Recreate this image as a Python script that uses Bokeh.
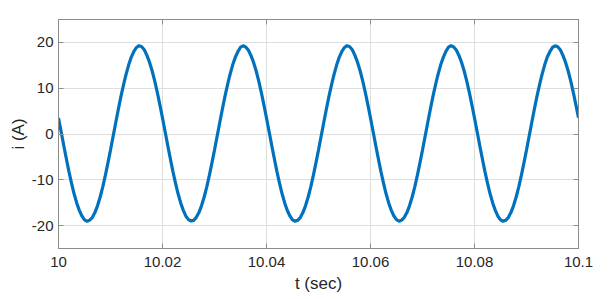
import numpy as np
from bokeh.plotting import figure
from bokeh.models import Range1d, FixedTicker, LinearAxis, ColumnDataSource
from bokeh.embed import file_html
from bokeh.resources import INLINE

# Current samples, every 0.5 ms from t = 10 s
cycle1 = [3.50, 0.53, -2.45, -5.36, -8.15, -10.74, -13.05, -15.05, -16.68, -17.90,
          -18.75, -19.05, -18.80, -18.25, -17.16, -15.68, -13.81, -11.59, -9.10, -6.37,
          -3.50, -0.53, 2.45, 5.36, 8.15, 10.74, 13.05, 15.10, 16.80, 18.05,
          18.90, 19.30, 19.05, 18.40, 17.16, 15.68, 13.81, 11.59, 9.10, 6.37]
cycle2 = [3.50, 0.53, -2.45, -5.36, -8.15, -10.74, -13.05, -15.05, -16.68, -17.95,
          -18.70, -19.00, -18.85, -18.20, -17.16, -15.68, -13.81, -11.59, -9.10, -6.37,
          -3.50, -0.53, 2.45, 5.36, 8.15, 10.74, 13.05, 15.10, 16.75, 18.00,
          18.95, 19.25, 19.00, 18.35, 17.16, 15.68, 13.81, 11.59, 9.10, 6.37]
cycle3 = [3.50, 0.53, -2.45, -5.36, -8.15, -10.74, -13.05, -15.05, -16.70, -17.90,
          -18.75, -19.05, -18.85, -18.25, -17.16, -15.68, -13.81, -11.59, -9.10, -6.37,
          -3.50, -0.53, 2.45, 5.36, 8.15, 10.74, 13.05, 15.10, 16.80, 18.05,
          18.90, 19.30, 19.05, 18.40, 17.16, 15.68, 13.81, 11.59, 9.10, 6.37]
cycle4 = [3.50, 0.53, -2.45, -5.36, -8.15, -10.74, -13.05, -15.05, -16.68, -17.90,
          -18.70, -19.05, -18.80, -18.20, -17.16, -15.68, -13.81, -11.59, -9.10, -6.37,
          -3.50, -0.53, 2.45, 5.36, 8.15, 10.74, 13.05, 15.10, 16.75, 18.05,
          18.95, 19.30, 19.00, 18.35, 17.16, 15.68, 13.81, 11.59, 9.10, 6.37]
cycle5 = [3.50, 0.53, -2.45, -5.36, -8.15, -10.74, -13.05, -15.05, -16.68, -17.95,
          -18.75, -19.05, -18.85, -18.25, -17.16, -15.68, -13.81, -11.59, -9.10, -6.37,
          -3.50, -0.53, 2.45, 5.36, 8.15, 10.74, 13.05, 15.10, 16.80, 18.00,
          18.90, 19.25, 19.05, 18.40, 17.16, 15.68, 13.81, 11.59, 9.10, 6.37]
last_value = [3.55]

current = cycle1 + cycle2 + cycle3 + cycle4 + cycle5 + last_value
t_start = 10.0
t_step = 0.0005
times = [t_start + t_step * k for k in range(len(current))]

x_ticks = [10.0, 10.02, 10.04, 10.06, 10.08, 10.1]
x_tick_labels = ["10", "10.02", "10.04", "10.06", "10.08", "10.1"]
y_ticks = [-20, -10, 0, 10, 20]
y_tick_labels = ["-20", "-10", "0", "10", "20"]

FONT = "Liberation Sans"
TXT = "#262626"
AX = "#8c8c8c"
GRID = "#dedede"

p = figure(width=611, height=299, output_backend="svg", toolbar_location=None,
           x_range=Range1d(10.0, 10.1), y_range=Range1d(-25, 25),
           min_border_left=58, min_border_right=33, min_border_top=19,
           min_border_bottom=51, x_axis_label="t (sec)", y_axis_label="i (A)")
p.background_fill_color = "white"
p.border_fill_color = "white"
p.outline_line_color = AX
p.outline_line_width = 1

src = ColumnDataSource(dict(t=times, i=current))
p.line("t", "i", source=src, line_color="#0072BD", line_width=3.2)

for g in (p.xgrid[0], p.ygrid[0]):
    g.grid_line_color = GRID
    g.grid_line_width = 1
p.xgrid[0].ticker = FixedTicker(ticks=x_ticks)
p.ygrid[0].ticker = FixedTicker(ticks=y_ticks)

xa = p.xaxis[0]
xa.ticker = FixedTicker(ticks=x_ticks)
xa.major_label_overrides = {tk: lb for tk, lb in zip(x_ticks, x_tick_labels)}
ya = p.yaxis[0]
ya.ticker = FixedTicker(ticks=y_ticks)
ya.major_label_overrides = {tk: lb for tk, lb in zip(y_ticks, y_tick_labels)}

for ax in (xa, ya):
    ax.axis_line_color = AX
    ax.major_tick_line_color = AX
    ax.major_tick_in = 5
    ax.major_tick_out = 0
    ax.minor_tick_line_color = None
    ax.major_label_text_font = FONT
    ax.major_label_text_font_size = "15px"
    ax.major_label_text_color = TXT
    ax.axis_label_text_font = FONT
    ax.axis_label_text_font_size = "17px"
    ax.axis_label_text_font_style = "normal"
    ax.axis_label_text_color = TXT

xa.major_label_standoff = 8
xa.axis_label_standoff = 4
ya.major_label_standoff = 5
ya.axis_label_standoff = 1

# box axes on top and right (ticks only)
top = LinearAxis(ticker=FixedTicker(ticks=x_ticks))
right = LinearAxis(ticker=FixedTicker(ticks=y_ticks))
for ax in (top, right):
    ax.axis_line_color = AX
    ax.major_tick_line_color = AX
    ax.major_tick_in = 5
    ax.major_tick_out = 0
    ax.minor_tick_line_color = None
    ax.major_label_text_font_size = "0px"
    ax.major_label_text_color = None
    ax.major_label_standoff = 0
p.add_layout(top, "above")
p.add_layout(right, "right")

open("out.html", "w").write(file_html(p, INLINE))
